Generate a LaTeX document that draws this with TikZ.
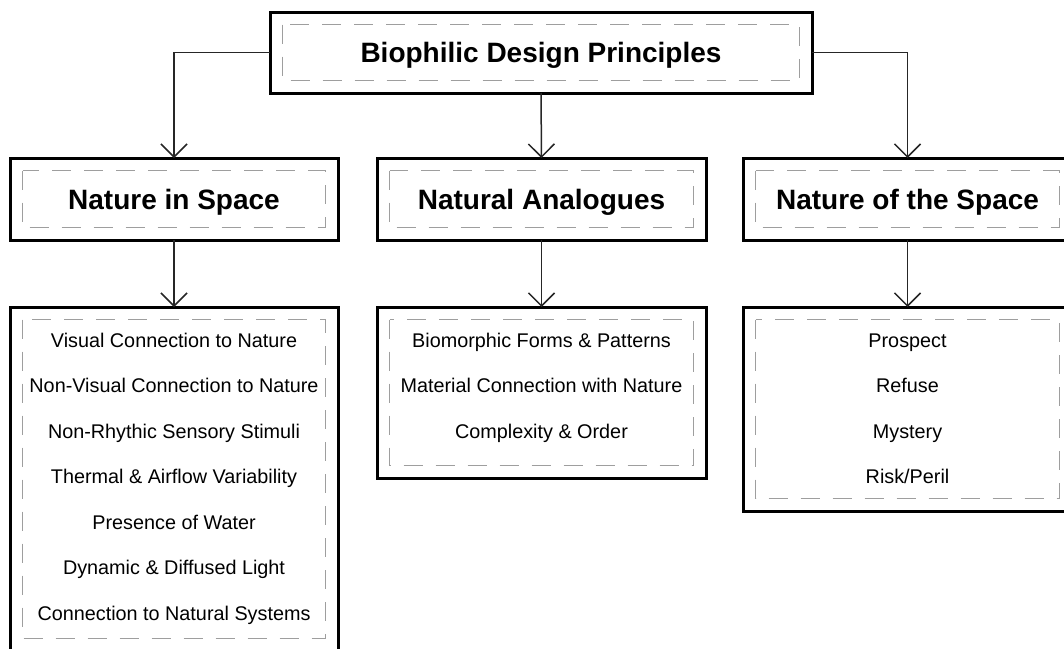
\documentclass[tikz,border=0pt]{standalone}
\usepackage{fontspec}
\setmainfont{Liberation Sans}
\usetikzlibrary{arrows.meta,calc}
\begin{document}
\begin{tikzpicture}[x=1pt,y=-1pt,
  box/.style={draw=black, line width=3pt, rectangle, inner sep=0pt, outer sep=0pt, fill=white},
  link/.style={draw=black!85, line width=1.5pt, -{Straight Barb[length=13pt,width=26pt,line width=1.5pt]}},
  innerdash/.style={draw=black!38, line width=1.3pt, dash pattern=on 19pt off 13pt},
  heading/.style={font=\fontsize{28}{34}\selectfont\bfseries, anchor=base, inner sep=0pt},
  item/.style={font=\fontsize{19.8}{24}\selectfont, anchor=base, inner sep=0pt},
]
\useasboundingbox[fill=white] (0,0) rectangle (1064,648);

% frames
\node[box, minimum width=542pt, minimum height=81pt] (root) at (541,52.5) {};
\node[box, minimum width=328pt, minimum height=82pt] (nis) at (174,199) {};
\node[box, minimum width=329pt, minimum height=82pt] (nan) at (541.5,199) {};
\node[box, minimum width=329pt, minimum height=82pt] (nos) at (907.5,199) {};
\node[box, minimum width=328pt, minimum height=344pt] (lnis) at (174,479) {};
\node[box, minimum width=329pt, minimum height=171pt] (lnan) at (541.5,392.5) {};
\node[box, minimum width=329pt, minimum height=204pt] (lnos) at (907.5,409) {};

% dashed inner frames
\foreach \n in {root,nis,nan,nos,lnis,lnan,lnos}
  \draw[innerdash] ($(\n.north west)+(12.5,12.5)$) rectangle ($(\n.south east)+(-12.5,-12.5)$);

% headings
\node[heading] (troot) at (541,62.5) {Biophilic Design Principles};
\node[heading] (tnis) at (174,209) {Nature in Space};
\node[heading] (tnan) at (541.5,209) {Natural Analogues};
\node[heading] (tnos) at (907.5,209) {Nature of the Space};

% items: nature in space
\node[item] (a1) at (174,347) {Visual Connection to Nature};
\node[item] (a2) at (174,392.5) {Non-Visual Connection to Nature};
\node[item] (a3) at (174,438) {Non-Rhythic Sensory Stimuli};
\node[item] (a4) at (174,483.5) {Thermal \& Airflow Variability};
\node[item] (a5) at (174,529) {Presence of Water};
\node[item] (a6) at (174,574.5) {Dynamic \& Diffused Light};
\node[item] (a7) at (174,620) {Connection to Natural Systems};

% items: natural analogues
\node[item] (b1) at (541.5,347) {Biomorphic Forms \& Patterns};
\node[item] (b2) at (541.5,392.5) {Material Connection with Nature};
\node[item] (b3) at (541.5,438) {Complexity \& Order};

% items: nature of the space
\node[item] (c1) at (907.5,347) {Prospect};
\node[item] (c2) at (907.5,392.5) {Refuse};
\node[item] (c3) at (907.5,438) {Mystery};
\node[item] (c4) at (907.5,483.5) {Risk/Peril};

% connectors
\draw[link] (root.west) -| (nis.north);
\draw[link] (root.south) -- (nan.north);
\draw[link] (root.east) -| (nos.north);
\draw[link] (nis.south) -- (lnis.north);
\draw[link] (nan.south) -- (lnan.north);
\draw[link] (nos.south) -- (lnos.north);
\end{tikzpicture}
\end{document}
